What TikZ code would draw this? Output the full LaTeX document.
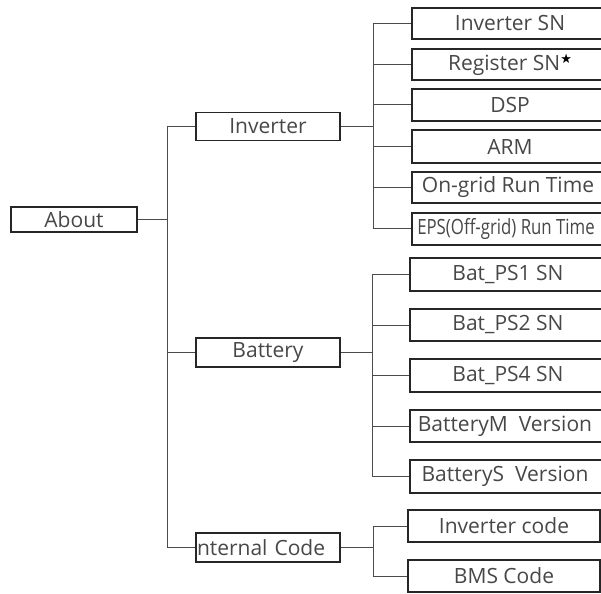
\documentclass[tikz,border=0pt]{standalone}
\usepackage{fontspec}
\setmainfont{Open Sans}
\newfontfamily\dejavu{DejaVu Sans}
\begin{document}
\begin{tikzpicture}[x=1pt,y=-1pt,
  box/.style={draw=black!85,line width=1.2pt,inner sep=0pt,text=black!72,
    font=\fontsize{21}{24}\selectfont},
  midbox/.style={box,minimum width=144pt,minimum height=28pt},
  rbox/.style={box,minimum width=196pt,minimum height=32pt},
  conn/.style={draw=black!70,line width=1pt}]
\useasboundingbox (0,0) rectangle (601,593);
\clip (0,0) rectangle (601,593);
\node[box,minimum width=126pt,minimum height=25pt] (about) at (74,219.5) {About};
\node[midbox] (inv) at (268,126.5) {Inverter};
\node[midbox,minimum height=29pt] (bat) at (268,352.5) {Battery};
\node[midbox,minimum height=29pt,text width=142pt,align=left] (int) at (268,547.5) {nternal Code};
% inverter children
\node[rbox,minimum height=31pt] (isn) at (510,23.5) {Inverter SN};
\node[rbox,minimum height=31pt] (rsn) at (510,64.5) {Register SN\raisebox{7pt}{\dejavu\fontsize{13}{14}\selectfont\textcolor{black}{★}}};
\node[rbox] (dsp) at (510,105) {DSP};
\node[rbox,minimum height=33pt] (arm) at (510,146.5) {ARM};
\node[rbox,minimum height=31pt] (ong) at (510,187.5) {\hspace*{-4pt}On-grid Run Time};
\node[rbox] (eps) at (510,229) {\hspace*{-8pt}\scalebox{0.8}[1]{EPS(Off-grid) Run Time}};
% battery children
\node[rbox,minimum height=33pt] (ps1) at (508,274.5) {Bat\_PS1 SN};
\node[rbox] (ps2) at (508,325) {Bat\_PS2 SN};
\node[rbox,minimum height=33pt] (ps4) at (508,375.5) {Bat\_PS4 SN};
\node[rbox] (bm) at (508,426) {\hspace*{-6pt}BatteryM\ \ Version};
\node[rbox,minimum height=33pt] (bs) at (508,476.5) {\hspace*{-6pt}BatteryS\ \ Version};
% internal code children
\node[box,minimum width=192pt,minimum height=32pt] (ic) at (504,526) {Inverter code};
\node[box,minimum width=192pt,minimum height=32pt] (bms) at (504,576) {BMS Code};
% junctions
\coordinate (j1) at (167,219.5);
\coordinate (j2) at (373,126.5);
\coordinate (j3) at (372,352.5);
\coordinate (j4) at (373,547.5);
\draw[conn] (about.east) -- (j1);
\draw[conn] (j1) |- (inv.west);
\draw[conn] (j1) |- (bat.west);
\draw[conn] (j1) |- (int.west);
\draw[conn] (inv.east) -- (j2);
\foreach \c in {isn,rsn,dsp,arm,ong,eps} \draw[conn] (j2) |- (\c.west);
\draw[conn] (bat.east) -- (j3);
\foreach \c in {ps1,ps2,ps4,bm,bs} \draw[conn] (j3) |- (\c.west);
\draw[conn] (int.east) -- (j4);
\foreach \c in {ic,bms} \draw[conn] (j4) |- (\c.west);
\end{tikzpicture}
\end{document}
